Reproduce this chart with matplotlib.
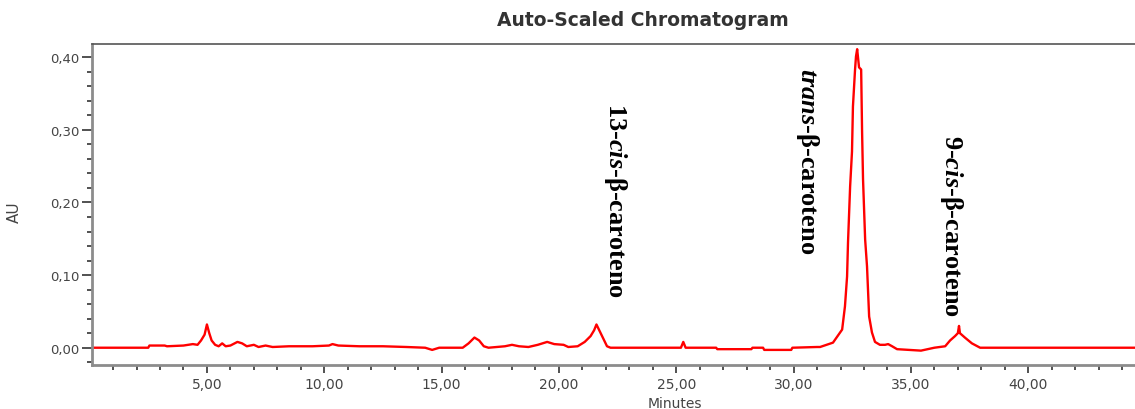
import matplotlib
matplotlib.use('Agg')
import matplotlib.pyplot as plt
from matplotlib.ticker import MultipleLocator, FuncFormatter

tempo = [0.1, 2.5, 2.55, 3.2, 3.3, 4.0, 4.4, 4.6, 4.75, 4.9, 5.0, 5.1, 5.2, 5.35,
         5.5, 5.65, 5.8, 6.0, 6.3, 6.5, 6.7, 7.0, 7.2, 7.5, 7.8, 8.5, 9.5, 10.2,
         10.35, 10.6, 11.5, 12.5, 13.5, 14.3, 14.6, 14.9, 15.9, 16.15, 16.4, 16.6,
         16.8, 17.0, 17.7, 18.0, 18.3, 18.7, 19.1, 19.5, 19.8, 20.2, 20.4, 20.8,
         21.1, 21.35, 21.5, 21.6, 21.75, 21.9, 22.05, 22.2, 25.2, 25.3, 25.4,
         26.7, 26.75, 28.2, 28.25, 28.7, 28.75, 29.9, 29.95, 31.0, 31.13, 31.68,
         32.07, 32.19, 32.28, 32.32, 32.41, 32.49, 32.53, 32.62, 32.66, 32.71,
         32.79, 32.88, 32.92, 32.96, 33.05, 33.13, 33.22, 33.34, 33.47, 33.68,
         33.9, 34.03, 34.2, 34.41, 35.43, 36.0, 36.46, 36.67, 36.88, 37.0, 37.05,
         37.09, 37.3, 37.6, 37.95, 44.6]
au = [0.0, 0.0, 0.003, 0.003, 0.002, 0.003, 0.005, 0.004, 0.010, 0.018, 0.032,
      0.020, 0.010, 0.004, 0.002, 0.006, 0.002, 0.003, 0.008, 0.006, 0.002,
      0.004, 0.001, 0.003, 0.001, 0.002, 0.002, 0.003, 0.005, 0.003, 0.002,
      0.002, 0.001, 0.0, -0.003, 0.0, 0.0, 0.006, 0.014, 0.010, 0.002, 0.0,
      0.002, 0.004, 0.002, 0.001, 0.004, 0.008, 0.005, 0.004, 0.001, 0.002,
      0.008, 0.016, 0.024, 0.032, 0.022, 0.012, 0.002, 0.0, 0.0, 0.008, 0.0,
      0.0, -0.002, -0.002, 0.0, 0.0, -0.003, -0.003, 0.0, 0.001, 0.001, 0.007,
      0.025, 0.057, 0.098, 0.145, 0.222, 0.270, 0.332, 0.383, 0.401, 0.411,
      0.386, 0.383, 0.297, 0.232, 0.149, 0.112, 0.043, 0.021, 0.008, 0.004,
      0.004, 0.005, 0.002, -0.002, -0.004, 0.0, 0.002, 0.010, 0.016, 0.020,
      0.030, 0.020, 0.014, 0.006, 0.0, 0.0]

# Rótulos dos picos: (texto, tempo, topo do texto em AU)
picos = [(r'13-$\mathit{cis}$-β-caroteno', 22.4, 0.338),
         (r'$\mathit{trans}$-β-caroteno', 30.6, 0.386),
         (r'9-$\mathit{cis}$-β-caroteno', 36.75, 0.294)]

plt.rcParams['mathtext.fontset'] = 'custom'
plt.rcParams['mathtext.it'] = 'Liberation Serif:italic:bold'
plt.rcParams['mathtext.rm'] = 'Liberation Serif:bold'

fig = plt.figure(figsize=(11.35, 4.10), dpi=100)
ax = fig.add_axes([0.081, 0.108, 0.919, 0.782])

ax.plot(tempo, au, color='#ff0000', linewidth=1.7)

ax.set_xlim(0.1, 44.55)
ax.set_ylim(-0.0234, 0.418)

ax.xaxis.set_major_locator(MultipleLocator(5))
ax.xaxis.set_minor_locator(MultipleLocator(1))
ax.yaxis.set_major_locator(MultipleLocator(0.1))
ax.yaxis.set_minor_locator(MultipleLocator(0.02))
virgula = FuncFormatter(lambda v, p: f'{v:.2f}'.replace('.', ','))
ax.xaxis.set_major_formatter(virgula)
ax.yaxis.set_major_formatter(virgula)

ax.tick_params(axis='both', which='major', direction='out', color='#333333',
               labelcolor='#444444', width=1.2)
ax.tick_params(axis='both', which='minor', direction='out', color='#333333', width=1.2,
               length=3.5)
ax.tick_params(axis='x', which='major', length=6, labelsize=10, pad=3)
ax.tick_params(axis='y', which='major', length=7, labelsize=9.5, pad=2)

for s in ['left', 'bottom']:
    ax.spines[s].set_color('#8c8c8c')
    ax.spines[s].set_linewidth(2)
ax.spines['top'].set_color('#555555')
ax.spines['top'].set_linewidth(1.2)
ax.spines['right'].set_visible(False)

for texto, t, y in picos:
    ax.text(t, y, texto, rotation=270, ha='center', va='top', fontsize=19,
            family='Liberation Serif', fontweight='bold', color='black')

fig.text(0.566, 0.951, 'Auto-Scaled Chromatogram', ha='center', va='center',
         fontsize=13.5, fontweight='bold', color='#333333')
fig.text(0.595, -0.002, 'Minutes', ha='center', va='bottom', fontsize=10,
         color='#444444')
fig.text(0.013, 0.483, 'AU', ha='center', va='center', rotation=90, fontsize=11,
         color='#444444')

fig.savefig('out.png', dpi=100)
